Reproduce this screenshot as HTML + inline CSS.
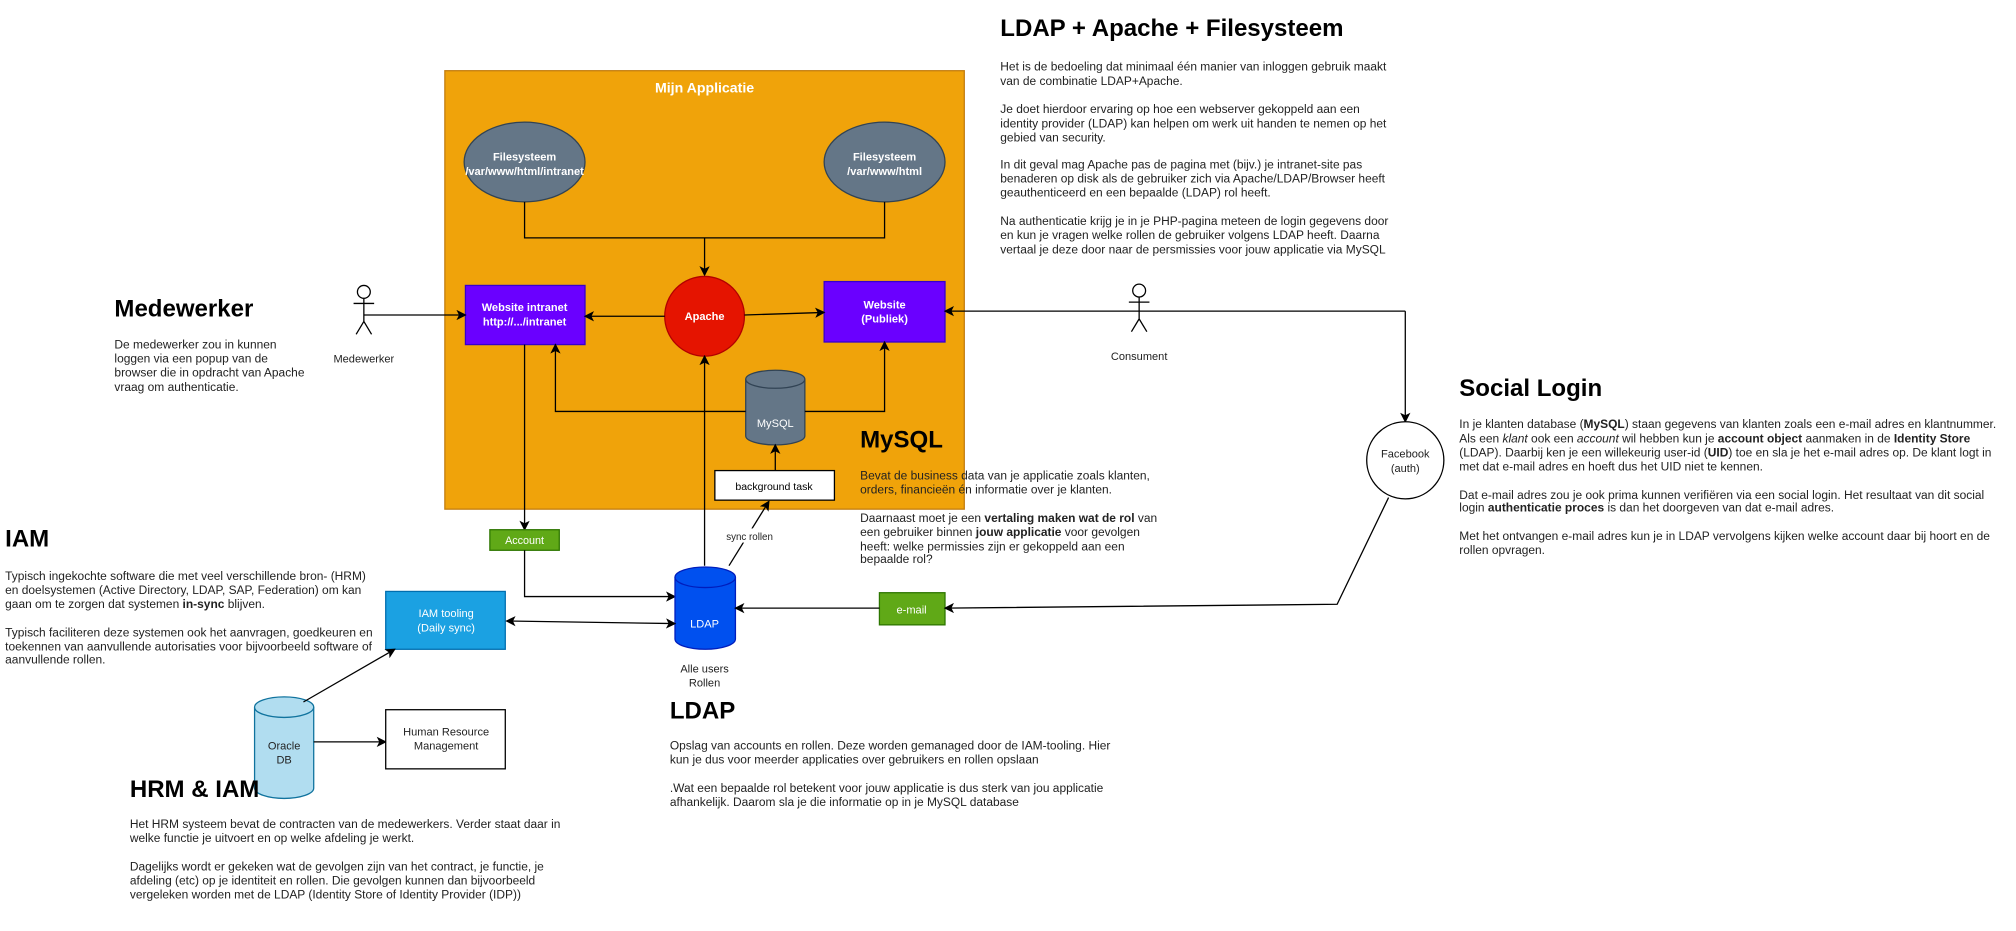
<!DOCTYPE html>
<html><head><meta charset="utf-8">
<style>
html,body{margin:0;padding:0;background:#fff;}
body{width:2016px;height:931px;overflow:hidden;position:relative;}
#w{position:absolute;left:0;top:0;width:1568px;height:724px;transform:scale(1.285714);transform-origin:0 0;font-family:"Liberation Sans",Arial,sans-serif;color:#000;}
svg{position:absolute;left:0;top:0;}
.h{position:absolute;font-size:18.7px;font-weight:bold;line-height:22px;white-space:nowrap;}
.p{position:absolute;font-size:9.3px;line-height:10.9px;white-space:nowrap;color:#222;}
</style></head><body>
<div id="w">
<svg width="1568" height="724" viewBox="0 0 1568 724" font-family="Liberation Sans, Arial, sans-serif">
<defs>
<marker id="a" markerWidth="8" markerHeight="8" refX="7" refY="4" orient="auto" markerUnits="userSpaceOnUse">
<path d="M0,0 L8,4 L0,8 L2,4 Z" fill="#000"/></marker>
<marker id="as" markerWidth="8" markerHeight="8" refX="1" refY="4" orient="auto" markerUnits="userSpaceOnUse">
<path d="M8,0 L0,4 L8,8 L6,4 Z" fill="#000"/></marker>
</defs>
<!-- container -->
<rect x="346" y="55" width="404" height="341" fill="#f0a30a" stroke="#c27c0e" stroke-width="1"/>
<text x="548" y="72" text-anchor="middle" fill="#fff" font-weight="bold" font-size="11">Mijn Applicatie</text>
<!-- filesystem ellipses -->
<ellipse cx="408" cy="126" rx="47" ry="31" fill="#647687" stroke="#314354"/>
<text x="408" y="125" text-anchor="middle" fill="#fff" font-weight="bold" font-size="8.6">Filesysteem</text>
<text x="408" y="136" text-anchor="middle" fill="#fff" font-weight="bold" font-size="8.6">/var/www/html/intranet</text>
<ellipse cx="688" cy="126" rx="47" ry="31" fill="#647687" stroke="#314354"/>
<text x="688" y="125" text-anchor="middle" fill="#fff" font-weight="bold" font-size="8.6">Filesysteem</text>
<text x="688" y="136" text-anchor="middle" fill="#fff" font-weight="bold" font-size="8.6">/var/www/html</text>
<path d="M408,157 V185 H688 V157" fill="none" stroke="#000"/>
<line x1="548" y1="185" x2="548" y2="214" stroke="#000" marker-end="url(#a)"/>
<!-- apache -->
<ellipse cx="548" cy="246" rx="31" ry="31" fill="#e51400" stroke="#b20000"/>
<text x="548" y="249" text-anchor="middle" fill="#fff" font-weight="bold" font-size="8.6">Apache</text>
<!-- websites -->
<rect x="362" y="222" width="93" height="46" fill="#6a00ff" stroke="#3700cc"/>
<text x="408" y="242" text-anchor="middle" fill="#fff" font-weight="bold" font-size="8.6">Website intranet</text>
<text x="408" y="253" text-anchor="middle" fill="#fff" font-weight="bold" font-size="8.6">http://.../intranet</text>
<rect x="641" y="219" width="94" height="47" fill="#6a00ff" stroke="#3700cc"/>
<text x="688" y="240" text-anchor="middle" fill="#fff" font-weight="bold" font-size="8.6">Website</text>
<text x="688" y="251" text-anchor="middle" fill="#fff" font-weight="bold" font-size="8.6">(Publiek)</text>
<line x1="517" y1="246" x2="455" y2="246" stroke="#000" marker-end="url(#a)"/>
<line x1="579" y1="245" x2="641" y2="243" stroke="#000" marker-end="url(#a)"/>
<!-- medewerker actor -->
<circle cx="283" cy="227" r="5" fill="#fff" stroke="#000"/>
<path d="M283,232 V250 M275,236 H291 M283,250 L277,260 M283,250 L289,260" stroke="#000" fill="none"/>
<text x="283" y="282" text-anchor="middle" font-size="8.6" fill="#222">Medewerker</text>
<line x1="283" y1="245" x2="362" y2="245" stroke="#000" marker-end="url(#a)"/>
<!-- consument actor -->
<circle cx="886" cy="226" r="5" fill="#fff" stroke="#000"/>
<path d="M886,231 V248 M878,235 H894 M886,248 L880,258 M886,248 L892,258" stroke="#000" fill="none"/>
<text x="886" y="280" text-anchor="middle" font-size="8.6" fill="#222">Consument</text>
<path d="M1093,242 H735" stroke="#000" fill="none" marker-end="url(#a)"/>
<line x1="1093" y1="242" x2="1093" y2="328" stroke="#000" marker-end="url(#a)"/>
<!-- facebook -->
<circle cx="1093" cy="358" r="30" fill="#fff" stroke="#000"/>
<text x="1093" y="356" text-anchor="middle" font-size="8.6" fill="#222">Facebook</text>
<text x="1093" y="367" text-anchor="middle" font-size="8.6" fill="#222">(auth)</text>
<!-- mysql -->
<path d="M580,295 V339 A23,7 0 0 0 626,339 V295" fill="#647687" stroke="#314354"/>
<ellipse cx="603" cy="295" rx="23" ry="7" fill="#647687" stroke="#314354"/>
<text x="603" y="332" text-anchor="middle" fill="#fff" font-size="8.6">MySQL</text>
<path d="M580,320 H432 V268" fill="none" stroke="#000" marker-end="url(#a)"/>
<path d="M626,320 H688 V266" fill="none" stroke="#000" marker-end="url(#a)"/>
<!-- background task -->
<rect x="556" y="366" width="93" height="23" fill="#fff" stroke="#000"/>
<text x="602" y="381" text-anchor="middle" font-size="8.2">background task</text>
<line x1="603" y1="366" x2="603" y2="346" stroke="#000" marker-end="url(#a)"/>
<!-- LDAP to Apache -->
<line x1="548" y1="440" x2="548" y2="277" stroke="#000" marker-end="url(#a)"/>
<!-- account -->
<line x1="408" y1="268" x2="408" y2="412" stroke="#000" marker-end="url(#a)"/>
<rect x="381" y="412" width="54" height="16" fill="#60a917" stroke="#2d7600"/>
<text x="408" y="423" text-anchor="middle" fill="#fff" font-size="8.4">Account</text>
<path d="M408,428 V464 H525" fill="none" stroke="#000" marker-end="url(#a)"/>
<!-- sync rollen -->
<line x1="567" y1="440" x2="598" y2="390" stroke="#000" marker-end="url(#a)"/>
<rect x="560" y="411" width="46" height="11" fill="#fff"/>
<text x="583" y="420" text-anchor="middle" font-size="7.6" fill="#222">sync rollen</text>
<!-- LDAP cyl -->
<path d="M525,449 V497 A23.5,8 0 0 0 572,497 V449" fill="#0050ef" stroke="#001dbc"/>
<ellipse cx="548.5" cy="449" rx="23.5" ry="8" fill="#0050ef" stroke="#001dbc"/>
<text x="548" y="488" text-anchor="middle" fill="#fff" font-size="8.6">LDAP</text>
<text x="548" y="523" text-anchor="middle" font-size="8.6" fill="#222">Alle users</text>
<text x="548" y="534" text-anchor="middle" font-size="8.6" fill="#222">Rollen</text>
<!-- IAM tooling -->
<rect x="300" y="460" width="93" height="45" fill="#1ba1e2" stroke="#006eaf"/>
<text x="347" y="480" text-anchor="middle" fill="#fff" font-size="8.6">IAM tooling</text>
<text x="347" y="491" text-anchor="middle" fill="#fff" font-size="8.6">(Daily sync)</text>
<line x1="394" y1="483" x2="525" y2="485" stroke="#000" marker-start="url(#as)" marker-end="url(#a)"/>
<!-- email -->
<rect x="684" y="461" width="51" height="25" fill="#60a917" stroke="#2d7600"/>
<text x="709" y="477" text-anchor="middle" fill="#fff" font-size="8.6">e-mail</text>
<path d="M1080,387 L1040,470 L735,473" fill="none" stroke="#000" marker-end="url(#a)"/>
<line x1="684" y1="473" x2="572" y2="473" stroke="#000" marker-end="url(#a)"/>
<!-- oracle -->
<path d="M198,550 V613 A23,8 0 0 0 244,613 V550" fill="#b1ddf0" stroke="#10739e"/>
<ellipse cx="221" cy="550" rx="23" ry="8" fill="#b1ddf0" stroke="#10739e"/>
<text x="221" y="583" text-anchor="middle" font-size="8.6" fill="#222">Oracle</text>
<text x="221" y="594" text-anchor="middle" font-size="8.6" fill="#222">DB</text>
<line x1="236" y1="546" x2="307" y2="505" stroke="#000" marker-end="url(#a)"/>
<line x1="244" y1="577" x2="300" y2="577" stroke="#000" marker-end="url(#a)"/>
<rect x="300" y="552" width="93" height="46" fill="#fff" stroke="#000"/>
<text x="347" y="572" text-anchor="middle" font-size="8.6" fill="#222">Human Resource</text>
<text x="347" y="583" text-anchor="middle" font-size="8.6" fill="#222">Management</text>
</svg>

<div class="h" style="left:89px;top:229px">Medewerker</div>
<div class="p" style="left:89px;top:263px">De medewerker zou in kunnen<br>loggen via een popup van de<br>browser die in opdracht van Apache<br>vraag om authenticatie.</div>

<div class="h" style="left:4px;top:408px">IAM</div>
<div class="p" style="left:4px;top:443px">Typisch ingekochte software die met veel verschillende bron- (HRM)<br>en doelsystemen (Active Directory, LDAP, SAP, Federation) om kan<br>gaan om te zorgen dat systemen <b>in-sync</b> blijven.<br><br>Typisch faciliteren deze systemen ook het aanvragen, goedkeuren en<br>toekennen van aanvullende autorisaties voor bijvoorbeeld software of<br>aanvullende rollen.</div>

<div class="h" style="left:101px;top:603px">HRM &amp; IAM</div>
<div class="p" style="left:101px;top:636px">Het HRM systeem bevat de contracten van de medewerkers. Verder staat daar in<br>welke functie je uitvoert en op welke afdeling je werkt.<br><br>Dagelijks wordt er gekeken wat de gevolgen zijn van het contract, je functie, je<br>afdeling (etc) op je identiteit en rollen. Die gevolgen kunnen dan bijvoorbeeld<br>vergeleken worden met de LDAP (Identity Store of Identity Provider (IDP))</div>

<div class="h" style="left:521px;top:542px">LDAP</div>
<div class="p" style="left:521px;top:575px">Opslag van accounts en rollen. Deze worden gemanaged door de IAM-tooling. Hier<br>kun je dus voor meerder applicaties over gebruikers en rollen opslaan<br><br>.Wat een bepaalde rol betekent voor jouw applicatie is dus sterk van jou applicatie<br>afhankelijk. Daarom sla je die informatie op in je MySQL database</div>

<div class="h" style="left:669px;top:331px">MySQL</div>
<div class="p" style="left:669px;top:365px">Bevat de business data van je applicatie zoals klanten,<br>orders, financieën én informatie over je klanten.<br><br>Daarnaast moet je een <b>vertaling maken wat de rol</b> van<br>een gebruiker binnen <b>jouw applicatie</b> voor gevolgen<br>heeft: welke permissies zijn er gekoppeld aan een<br>bepaalde rol?</div>

<div class="h" style="left:778px;top:11px">LDAP + Apache + Filesysteem</div>
<div class="p" style="left:778px;top:47px">Het is de bedoeling dat minimaal één manier van inloggen gebruik maakt<br>van de combinatie LDAP+Apache.<br><br>Je doet hierdoor ervaring op hoe een webserver gekoppeld aan een<br>identity provider (LDAP) kan helpen om werk uit handen te nemen op het<br>gebied van security.<br><br>In dit geval mag Apache pas de pagina met (bijv.) je intranet-site pas<br>benaderen op disk als de gebruiker zich via Apache/LDAP/Browser heeft<br>geauthenticeerd en een bepaalde (LDAP) rol heeft.<br><br>Na authenticatie krijg je in je PHP-pagina meteen de login gegevens door<br>en kun je vragen welke rollen de gebruiker volgens LDAP heeft. Daarna<br>vertaal je deze door naar de persmissies voor jouw applicatie via MySQL</div>

<div class="h" style="left:1135px;top:291px">Social Login</div>
<div class="p" style="left:1135px;top:325px">In je klanten database (<b>MySQL</b>) staan gegevens van klanten zoals een e-mail adres en klantnummer.<br>Als een <i>klant</i> ook een <i>account</i> wil hebben kun je <b>account object</b> aanmaken in de <b>Identity Store</b><br>(LDAP). Daarbij ken je een willekeurig user-id (<b>UID</b>) toe en sla je het e-mail adres op. De klant logt in<br>met dat e-mail adres en hoeft dus het UID niet te kennen.<br><br>Dat e-mail adres zou je ook prima kunnen verifiëren via een social login. Het resultaat van dit social<br>login <b>authenticatie proces</b> is dan het doorgeven van dat e-mail adres.<br><br>Met het ontvangen e-mail adres kun je in LDAP vervolgens kijken welke account daar bij hoort en de<br>rollen opvragen.</div>
</div>
</body></html>
